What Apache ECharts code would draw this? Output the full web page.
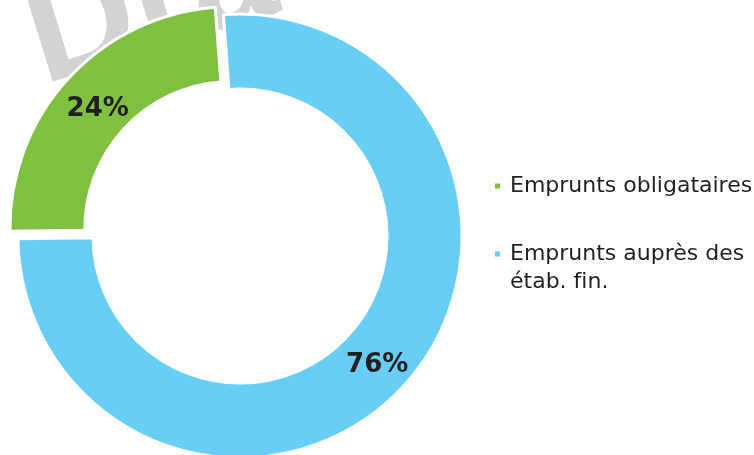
<!DOCTYPE html>
<html>
<head>
<meta charset="utf-8">
<script src="https://cdn.jsdelivr.net/npm/echarts@6/dist/echarts.min.js"></script>
<style>
  html, body { margin: 0; padding: 0; background: #fff; }
  #chart { width: 754px; height: 455px; }
</style>
</head>
<body>
<div id="chart"></div>
<script>
// parts of the borrowing, in percent
const names = ['Emprunts auprès des étab. fin.', 'Emprunts obligataires']
const values = [76, 24]
const colors = ['#68cef5', '#80c141']
const legendOrder = ['Emprunts obligataires', 'Emprunts auprès des étab. fin.']
// small nudges so the labels sit where the original put them
const labelOffsets = [[-1, 3], [4, 7]]

const chart = echarts.init(document.getElementById('chart'), null, { renderer: 'canvas' })

// legend: wrap the long name, keep its first line level with the marker
const legendName = name => {
  if (name.indexOf(' étab.') < 0) return name
  return '\n' + name.replace(' étab.', '\nétab.').replace('fin', 'f\u200Cin')
}

chart.setOption({
  animation: false,
  textStyle: { fontFamily: 'DejaVu Sans' },
  graphic: [
    {
      // watermark, only its first letters show above the ring
      type: 'text',
      z: -10,
      x: 31,
      y: 45,
      rotation: 0.3,
      style: {
        text: 'Dra',
        fontSize: 150,
        fontWeight: 'bold',
        fontFamily: 'Liberation Sans',
        fill: '#d1d3d4',
        textAlign: 'left',
        textVerticalAlign: 'middle'
      }
    }
  ],
  legend: {
    orient: 'vertical',
    left: 493,
    top: 172,
    padding: 0,
    itemWidth: 7,
    itemHeight: 7,
    itemGap: 12,
    icon: 'rect',
    selectedMode: false,
    data: legendOrder,
    formatter: legendName,
    textStyle: {
      fontSize: 22,
      lineHeight: 28,
      color: '#231f20',
      fontFamily: 'DejaVu Sans',
      padding: [0, 0, 0, 4]
    }
  },
  series: [
    {
      type: 'pie',
      center: [240, 236],
      radius: [147, 222],
      startAngle: 94.3,
      clockwise: true,
      selectedMode: 'single',
      selectedOffset: 11,
      silent: true,
      emphasis: { disabled: true },
      itemStyle: { borderColor: '#fff', borderWidth: 3 },
      label: {
        position: 'inside',
        formatter: '{c}%',
        fontSize: 26,
        fontWeight: 'bold',
        fontFamily: 'DejaVu Sans',
        color: '#231f20'
      },
      labelLine: { show: false },
      labelLayout: p => ({ dx: labelOffsets[p.dataIndex][0], dy: labelOffsets[p.dataIndex][1] }),
      data: names.map((n, i) => ({
        name: n,
        value: values[i],
        selected: i === 1,
        itemStyle: { color: colors[i] }
      }))
    }
  ]
})
</script>
</body>
</html>
